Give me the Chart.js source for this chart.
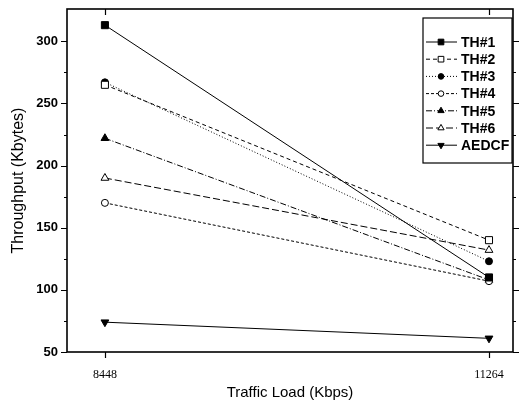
<!DOCTYPE html>
<html>
<head>
<meta charset="utf-8">
<script src="https://cdn.jsdelivr.net/npm/chart.js@4/dist/chart.umd.min.js"></script>
<style>
  html, body { margin: 0; padding: 0; background: #fff; }
  #wrap { width: 524px; height: 407px; }
</style>
</head>
<body>
<div id="wrap"><canvas id="chart" width="524" height="407"></canvas></div>
<script>
// Throughput vs traffic load, two load points per series.
const LOADS = [8448, 11264];
const Y_TICKS = [50, 75, 100, 125, 150, 175, 200, 225, 250, 275, 300];

const TH1 = [313, 110];
const TH2 = [265, 140];
const TH3 = [267, 123];
const TH4 = [170, 107];
const TH5 = [222, 108];
const TH6 = [190, 132];
const AEDCF = [74, 61];

const SERIES = [
  { label: "TH#1", data: TH1, dash: [], style: "rect", fill: true },
  { label: "TH#2", data: TH2, dash: [4, 3], style: "rect", fill: false },
  { label: "TH#3", data: TH3, dash: [1, 2], style: "circle", fill: true },
  { label: "TH#4", data: TH4, dash: [3, 2], style: "circle", fill: false },
  { label: "TH#5", data: TH5, dash: [6, 2, 1, 2], style: "triangle", fill: true },
  { label: "TH#6", data: TH6, dash: [7, 3], style: "triangle", fill: false },
  { label: "AEDCF", data: AEDCF, dash: [], style: "triangle", fill: true, rot: 180 },
];

const FONT = "'Liberation Sans', Arial, sans-serif";

function pointRadius(s) {
  if (s.style === "rect") return 5;
  if (s.style === "circle") return 3.5;
  return 4.5;
}

const datasets = SERIES.map((s) => ({
  label: s.label,
  data: s.data.map((v, i) => ({ x: LOADS[i], y: v })),
  borderColor: "#000",
  borderWidth: 1,
  borderDash: s.dash,
  backgroundColor: s.fill ? "#000" : "#fff",
  pointStyle: s.style,
  pointRotation: s.rot || 0,
  pointRadius: pointRadius(s),
  pointBorderWidth: 1,
  pointBorderColor: "#000",
  pointBackgroundColor: s.fill ? "#000" : "#fff",
  tension: 0,
  fill: false,
}));

// frame + tick marks drawn from the scales
const framePlugin = {
  id: "frame",
  afterDraw(chart) {
    const { ctx, chartArea: a, scales } = chart;
    const x = scales.x, y = scales.y;
    ctx.save();
    ctx.strokeStyle = "#000";
    ctx.lineWidth = 1.6;
    ctx.setLineDash([]);
    ctx.strokeRect(a.left, a.top, a.right - a.left, a.bottom - a.top);
    ctx.lineWidth = 1.2;
    ctx.beginPath();
    y.ticks.forEach((t) => {
      const py = Math.round(y.getPixelForValue(t.value)) + 0.5;
      const len = t.value % 50 === 0 ? 6 : 3;
      ctx.moveTo(a.left - len, py); ctx.lineTo(a.left, py);
      ctx.moveTo(a.right, py); ctx.lineTo(a.right + len, py);
    });
    x.ticks.forEach((t) => {
      const px = Math.round(x.getPixelForValue(t.value)) + 0.5;
      ctx.moveTo(px, a.bottom); ctx.lineTo(px, a.bottom + 6);
      ctx.moveTo(px, a.top); ctx.lineTo(px, a.top + 6);
    });
    ctx.stroke();
    ctx.restore();
  },
};

// legend with line + marker samples
const legendPlugin = {
  id: "boxLegend",
  afterDraw(chart) {
    const ctx = chart.ctx;
    const bx = 423, by = 18, bw = 89, bh = 145;
    ctx.save();
    ctx.fillStyle = "#fff";
    ctx.fillRect(bx, by, bw, bh);
    ctx.strokeStyle = "#000";
    ctx.lineWidth = 1.2;
    ctx.setLineDash([]);
    ctx.strokeRect(bx, by, bw, bh);
    ctx.font = "bold 14px " + FONT;
    ctx.textBaseline = "middle";
    SERIES.forEach((s, i) => {
      const ly = 42 + i * 17.2;
      ctx.strokeStyle = "#000";
      ctx.lineWidth = 1;
      ctx.setLineDash(s.dash);
      ctx.beginPath();
      ctx.moveTo(426, ly); ctx.lineTo(457, ly);
      ctx.stroke();
      ctx.setLineDash([]);
      ctx.fillStyle = s.fill ? "#000" : "#fff";
      Chart.helpers.drawPoint(ctx, {
        pointStyle: s.style, rotation: s.rot || 0,
        radius: pointRadius(s) * 0.8, borderWidth: 1,
      }, 441, ly);
      ctx.fillStyle = "#000";
      ctx.fillText(s.label, 461, ly + 1);
    });
    ctx.restore();
  },
};

new Chart(document.getElementById("chart"), {
  type: "line",
  data: { datasets },
  options: {
    responsive: false,
    animation: false,
    layout: { padding: { top: 9, right: 11, left: 0, bottom: 0 } },
    plugins: { legend: { display: false }, tooltip: { enabled: false } },
    scales: {
      x: {
        type: "linear",
        min: 8170,
        max: 11440,
        afterBuildTicks: (s) => { s.ticks = LOADS.map((v) => ({ value: v })); },
        afterFit: (s) => { s.height = 55; s.paddingLeft = 0; s.paddingRight = 0; },
        grid: { display: false, drawTicks: false },
        border: { display: false },
        ticks: {
          padding: 16,
          maxRotation: 0,
          color: "#000",
          font: { family: "'Liberation Serif', 'Times New Roman', serif", size: 12 },
          callback: (v) => String(v),
        },
        title: {
          display: true,
          text: "Traffic Load (Kbps)",
          color: "#000",
          font: { family: FONT, size: 15 },
          padding: { top: 0, bottom: 5 },
        },
      },
      y: {
        min: 50,
        max: 326,
        afterBuildTicks: (s) => { s.ticks = Y_TICKS.map((v) => ({ value: v })); },
        afterFit: (s) => { s.width = 67; s.paddingTop = 0; s.paddingBottom = 0; },
        grid: { display: false, drawTicks: false },
        border: { display: false },
        ticks: {
          padding: 9,
          color: "#000",
          font: { family: FONT, size: 13, weight: "bold" },
          callback: (v) => (v % 50 === 0 ? String(v) : ""),
        },
        title: {
          display: true,
          text: "Throughput (Kbytes)",
          color: "#000",
          font: { family: FONT, size: 16 },
          padding: { top: 9, bottom: 0 },
        },
      },
    },
  },
  plugins: [framePlugin, legendPlugin],
});
</script>
</body>
</html>
